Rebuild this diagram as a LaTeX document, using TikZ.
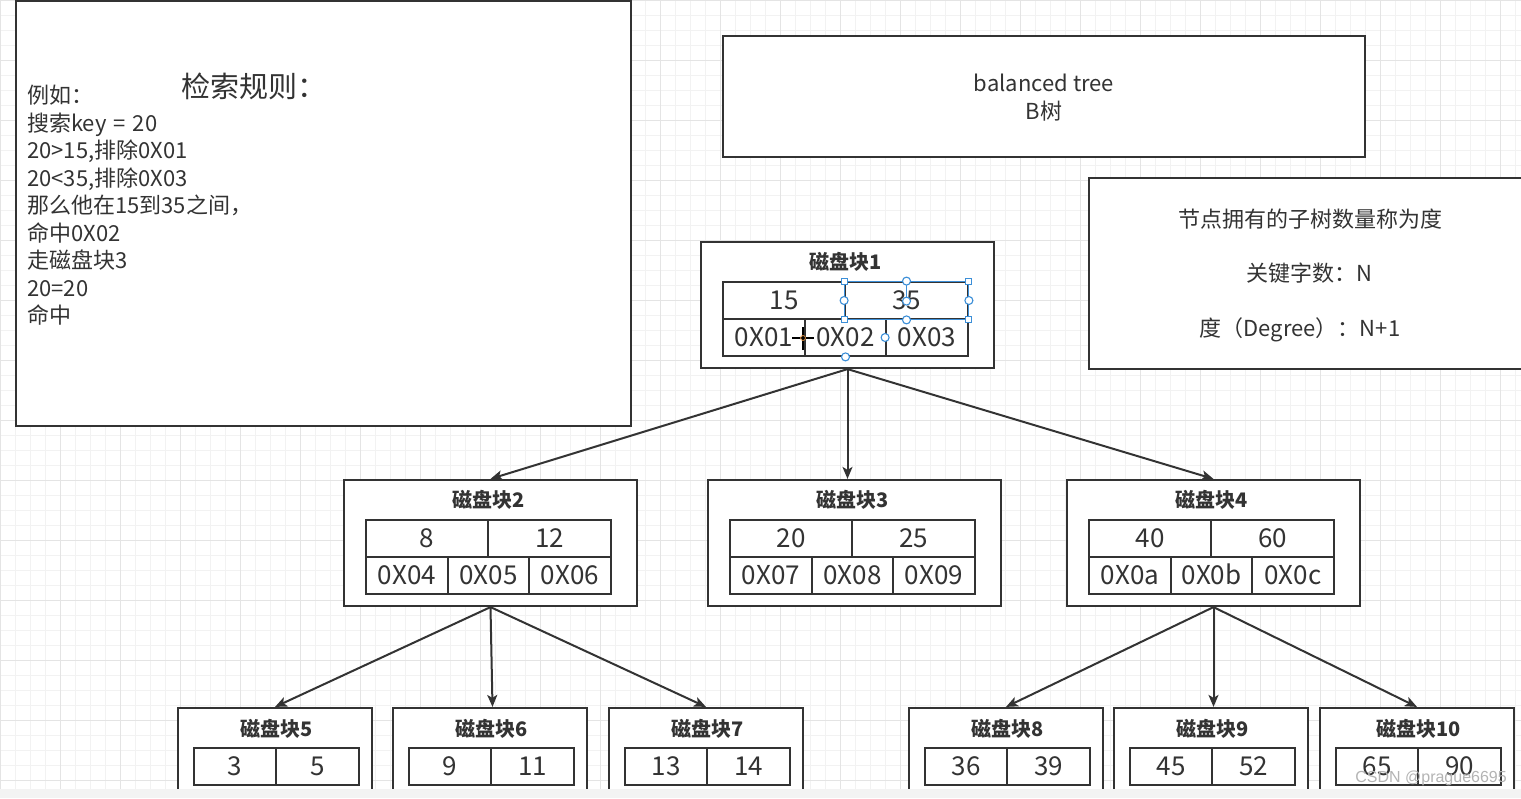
\documentclass[tikz,border=0pt]{standalone}
\usepackage{fontspec}
\setmainfont{Noto Sans CJK SC}
\newfontfamily\wmfont{Liberation Sans}
\usetikzlibrary{arrows.meta}
\definecolor{ink}{HTML}{333333}
\definecolor{gridminor}{HTML}{F2F2F2}
\definecolor{gridmajor}{HTML}{E4E4E4}
\definecolor{selblue}{HTML}{3C8FD8}
\definecolor{stripgray}{HTML}{F3F3F3}
\definecolor{wmgray}{HTML}{B4B4B4}
\definecolor{cursororg}{HTML}{D98A3A}

\tikzset{
  panel/.style={draw=ink, line width=2.2pt, fill=white, inner sep=0pt},
  blkbox/.style={draw=ink, line width=2.2pt, fill=white, inner sep=0pt},
  cell/.style={draw=ink, line width=1.8pt, fill=white, inner sep=0pt, minimum height=37pt,
    text=ink, font=\fontsize{26}{30}\selectfont, text height=20pt, text depth=2pt},
  blktitle/.style={inner sep=0pt, text=ink, font=\fontsize{20}{24}\selectfont\bfseries,
    text height=16pt, text depth=2pt},
  txt/.style={inner sep=0pt, text=ink, font=\fontsize{22}{26}\selectfont,
    text height=18pt, text depth=3pt},
  bigtxt/.style={inner sep=0pt, text=ink, font=\fontsize{29}{33}\selectfont,
    text height=24pt, text depth=4pt},
  conn/.style={draw=ink, line width=2pt, -{Stealth[length=12pt,width=10pt,inset=3pt]}},
  selline/.style={draw=selblue, line width=1.1pt},
  selsq/.style={draw=selblue, fill=white, line width=1.1pt, minimum size=6pt, inner sep=0pt},
  selcirc/.style={draw=selblue, fill=white, line width=1.1pt, circle, minimum size=8pt, inner sep=0pt},
}

% #1 name, #2 left, #3 top, #4 title, #5 #6 keys, #7 #8 #9 pointers
\newcommand\DiskBlock[9]{%
  \node[blkbox, minimum width=293pt, minimum height=126pt] (#1) at (#2+146.5,#3+63) {};
  \node[blktitle] (#1t) at (#2+144.5,#3+20) {#4};
  \node[cell, minimum width=122pt] (#1k1) at (#2+83,#3+58.5) {#5};
  \node[cell, minimum width=123pt] (#1k2) at (#2+205.5,#3+58.5) {#6};
  \node[cell, minimum width=82pt] (#1p1) at (#2+63,#3+95.5) {#7};
  \node[cell, minimum width=81pt] (#1p2) at (#2+144.5,#3+95.5) {#8};
  \node[cell, minimum width=82pt] (#1p3) at (#2+226,#3+95.5) {#9};
}
% #1 name, #2 left, #3 top, #4 title, #5 #6 keys
\newcommand\LeafBlock[6]{%
  \node[blkbox, minimum width=194pt, minimum height=87pt] (#1) at (#2+97,#3+43.5) {};
  \node[blktitle] (#1t) at (#2+98.5,#3+21) {#4};
  \node[cell, minimum width=82pt] (#1k1) at (#2+57,#3+58.5) {#5};
  \node[cell, minimum width=83pt] (#1k2) at (#2+139.5,#3+58.5) {#6};
}

\begin{document}
\begin{tikzpicture}[x=1pt,y=-1pt]
\useasboundingbox (0,0) rectangle (1521,798);
\fill[white] (0,0) rectangle (1521,798);
% grid
\foreach \gx in {0,15,...,1515} {\draw[gridminor, line width=0.8pt] (\gx,0) -- (\gx,798);}
\foreach \gy in {0,15,...,795} {\draw[gridminor, line width=0.8pt] (0,\gy) -- (1521,\gy);}
\foreach \gx in {0,60,...,1500} {\draw[gridmajor, line width=0.9pt] (\gx,0) -- (\gx,798);}
\foreach \gy in {0,60,...,780} {\draw[gridmajor, line width=0.9pt] (0,\gy) -- (1521,\gy);}

% left rules panel
\node[panel, minimum width=615pt, minimum height=425pt] (rules) at (323.5,213.5) {};
\node[bigtxt, anchor=west] (rulestitle) at (181,87) {检索规则：};
\node[txt, anchor=west] (r1) at (27,96) {例如：};
\node[txt, anchor=west] (r2) at (27,124) {搜索key\hspace{0.32em}=\hspace{0.32em}20};
\node[txt, anchor=west] (r3) at (27,151) {20>15,排除0X01};
\node[txt, anchor=west] (r4) at (27,179) {20<35,排除0X03};
\node[txt, anchor=west] (r5) at (27,206) {那么他在15到35之间，};
\node[txt, anchor=west] (r6) at (27,234) {命中0X02};
\node[txt, anchor=west] (r7) at (27,261) {走磁盘块3};
\node[txt, anchor=west] (r8) at (27,289) {20=20};
\node[txt, anchor=west] (r9) at (27,316) {命中};

% title panel
\node[panel, minimum width=642pt, minimum height=121pt] (titlebox) at (1044,96.5) {};
\node[txt] (tt1) at (1044,84) {balanced tree};
\node[txt] (tt2) at (1044,112) {B树};

% degree panel
\node[panel, minimum width=436pt, minimum height=191pt] (degbox) at (1307,273.5) {};
\node[txt] (dg1) at (1310,220) {节点拥有的子树数量称为度};
\node[txt] (dg2) at (1309,274) {关键字数：N};
\node[txt] (dg3) at (1300,329) {度（Degree）：N+1};

% blocks
\DiskBlock{b1}{701}{242}{磁盘块1}{15}{35}{0X01}{0X02}{0X03}
\DiskBlock{b2}{344}{480}{磁盘块2}{8}{12}{0X04}{0X05}{0X06}
\DiskBlock{b3}{708}{480}{磁盘块3}{20}{25}{0X07}{0X08}{0X09}
\DiskBlock{b4}{1067}{480}{磁盘块4}{40}{60}{0X0a}{0X0b}{0X0c}
\LeafBlock{b5}{178}{708}{磁盘块5}{3}{5}
\LeafBlock{b6}{393}{708}{磁盘块6}{9}{11}
\LeafBlock{b7}{609}{708}{磁盘块7}{13}{14}
\LeafBlock{b8}{909}{708}{磁盘块8}{36}{39}
\LeafBlock{b9}{1114}{708}{磁盘块9}{45}{52}
\LeafBlock{b10}{1320}{708}{磁盘块10}{65}{90}

% connectors
\draw[conn] (b1.south) -- (b2.north);
\draw[conn] (b1.south) -- (b1.south |- b3.north);
\draw[conn] (b1.south) -- (b4.north);
\draw[conn] (b2.south) -- (b5.north);
\draw[conn] (b2.south) -- ([xshift=2pt]b2.south |- b6.north);
\draw[conn] (b2.south) -- (b7.north);
\draw[conn] (b4.south) -- (b8.north);
\draw[conn] (b4.south) -- (b4.south |- b9.north);
\draw[conn] (b4.south) -- (b10.north);

% selection handles on the "35" cell (editor overlay)
\draw[selline] (b1k2.north west) rectangle (b1k2.south east);
\coordinate (rot) at ([yshift=-20pt]b1k2.north);
\draw[selline] (rot) -- (b1k2.north);
\node[selcirc] (hrot) at (rot) {};
\node[selsq] (h1) at (b1k2.north west) {};
\node[selsq] (h2) at (b1k2.north east) {};
\node[selsq] (h3) at (b1k2.south west) {};
\node[selsq] (h4) at (b1k2.south east) {};
\node[selcirc] (h5) at (b1k2.north) {};
\node[selcirc] (h6) at (b1k2.south) {};
\node[selcirc] (h7) at (b1k2.west) {};
\node[selcirc] (h8) at (b1k2.east) {};
\node[selcirc] (h9) at (b1p3.west) {};
\node[selcirc] (h10) at (b1p2.south) {};
% cursor
\coordinate (cur) at (803,338);
\draw[black, line width=2pt] ([yshift=-12pt]cur) -- ([yshift=11pt]cur);
\draw[black, line width=1.5pt] ([xshift=-11pt]cur) -- ([xshift=11pt]cur);
\draw[cursororg, line width=0.8pt] (cur) circle (2.5pt);

% bottom strip of the screenshot
\fill[stripgray] (0,789) rectangle (1521,798);
% watermark
\node[inner sep=0pt, text=wmgray, font=\wmfont\fontsize{16}{18}\selectfont, anchor=east] (wm) at (1507,778) {CSDN @prague6695};
\end{tikzpicture}
\end{document}
